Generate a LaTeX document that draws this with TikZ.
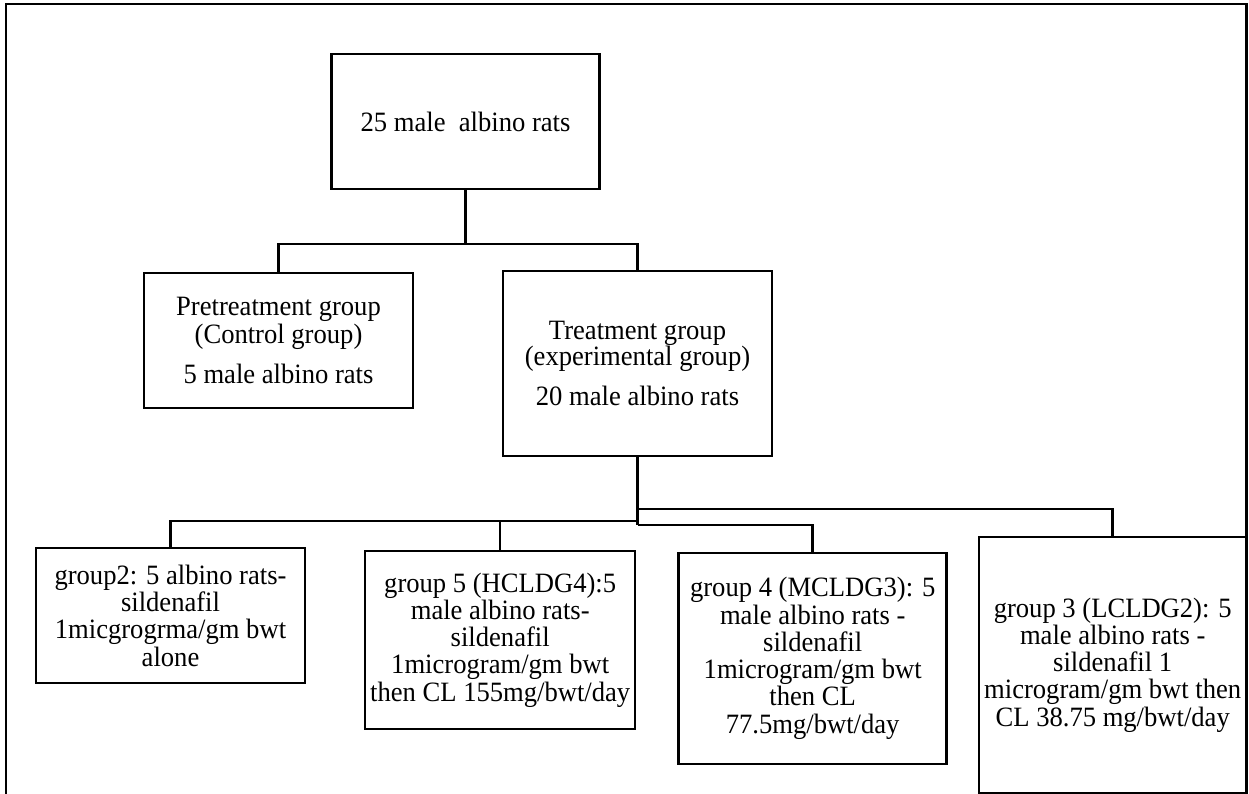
\documentclass[tikz,border=0pt]{standalone}
\usepackage{fontspec}
\setmainfont[FakeStretch=0.95]{Liberation Serif}
\begin{document}
\begin{tikzpicture}[x=1pt,y=-1pt,
  every node/.style={font=\fontsize{28}{27.3}\selectfont},
  box/.style={draw,line width=2.5pt,align=center,inner sep=2pt},
  conn/.style={line width=2.5pt}]
\useasboundingbox (0,0) rectangle (1249,794);
\clip (0,0) rectangle (1249,794);
\draw[line width=2.5pt] (6,4) rectangle (1246.5,830);

\node[box,minimum width=268pt,minimum height=135pt] (top) at (465.5,121.5) {25 male\ \ albino rats};
\node[box,minimum width=269pt,minimum height=135pt] (pre) at (278.5,340.5)
  {Pretreatment group\\(Control group)\\[13pt]5 male albino rats};
\node[box,minimum width=269pt,minimum height=185pt] (treat) at (637.5,363.5)
  {Treatment group\\[-1pt](experimental group)\\[13pt]20 male albino rats};
\node[box,minimum width=269pt,minimum height=135pt] (g2) at (170.5,615.5)
  {group2: 5 albino rats-\\sildenafil\\1micgrogrma/gm bwt\\alone};
\node[box,minimum width=270pt,minimum height=178pt] (g5) at (500.2,640)
  {group 5 (HCLDG4):5\\male albino rats-\\sildenafil\\1microgram/gm bwt\\then CL 155mg/bwt/day};
\node[box,minimum width=268pt,minimum height=211pt] (g4) at (812.7,658.3)
  {group 4 (MCLDG3): 5\\male albino rats -\\sildenafil\\1microgram/gm bwt\\then CL\\77.5mg/bwt/day};
\node[box,minimum width=267.5pt,minimum height=256pt] (g3) at (1112.7,665)
  {group 3 (LCLDG2): 5\\male albino rats -\\sildenafil 1\\microgram/gm bwt then\\CL 38.75 mg/bwt/day};

\coordinate (b1) at (top.south |- 0,244);
\draw[conn] (top.south) -- (b1) -| (pre.north);
\draw[conn] (b1) -| (treat.north);

\coordinate (b2) at (treat.south |- 0,525);
\draw[conn] (treat.south) -- (b2);
\draw[conn] (treat.south |- 0,521) -| (g2.north);
\draw[conn] (g5.north) -- (g5.north |- 0,521);
\draw[conn] (treat.south |- 0,509) -| (g3.north);
\draw[conn] (b2) -| (g4.north);
\end{tikzpicture}
\end{document}
